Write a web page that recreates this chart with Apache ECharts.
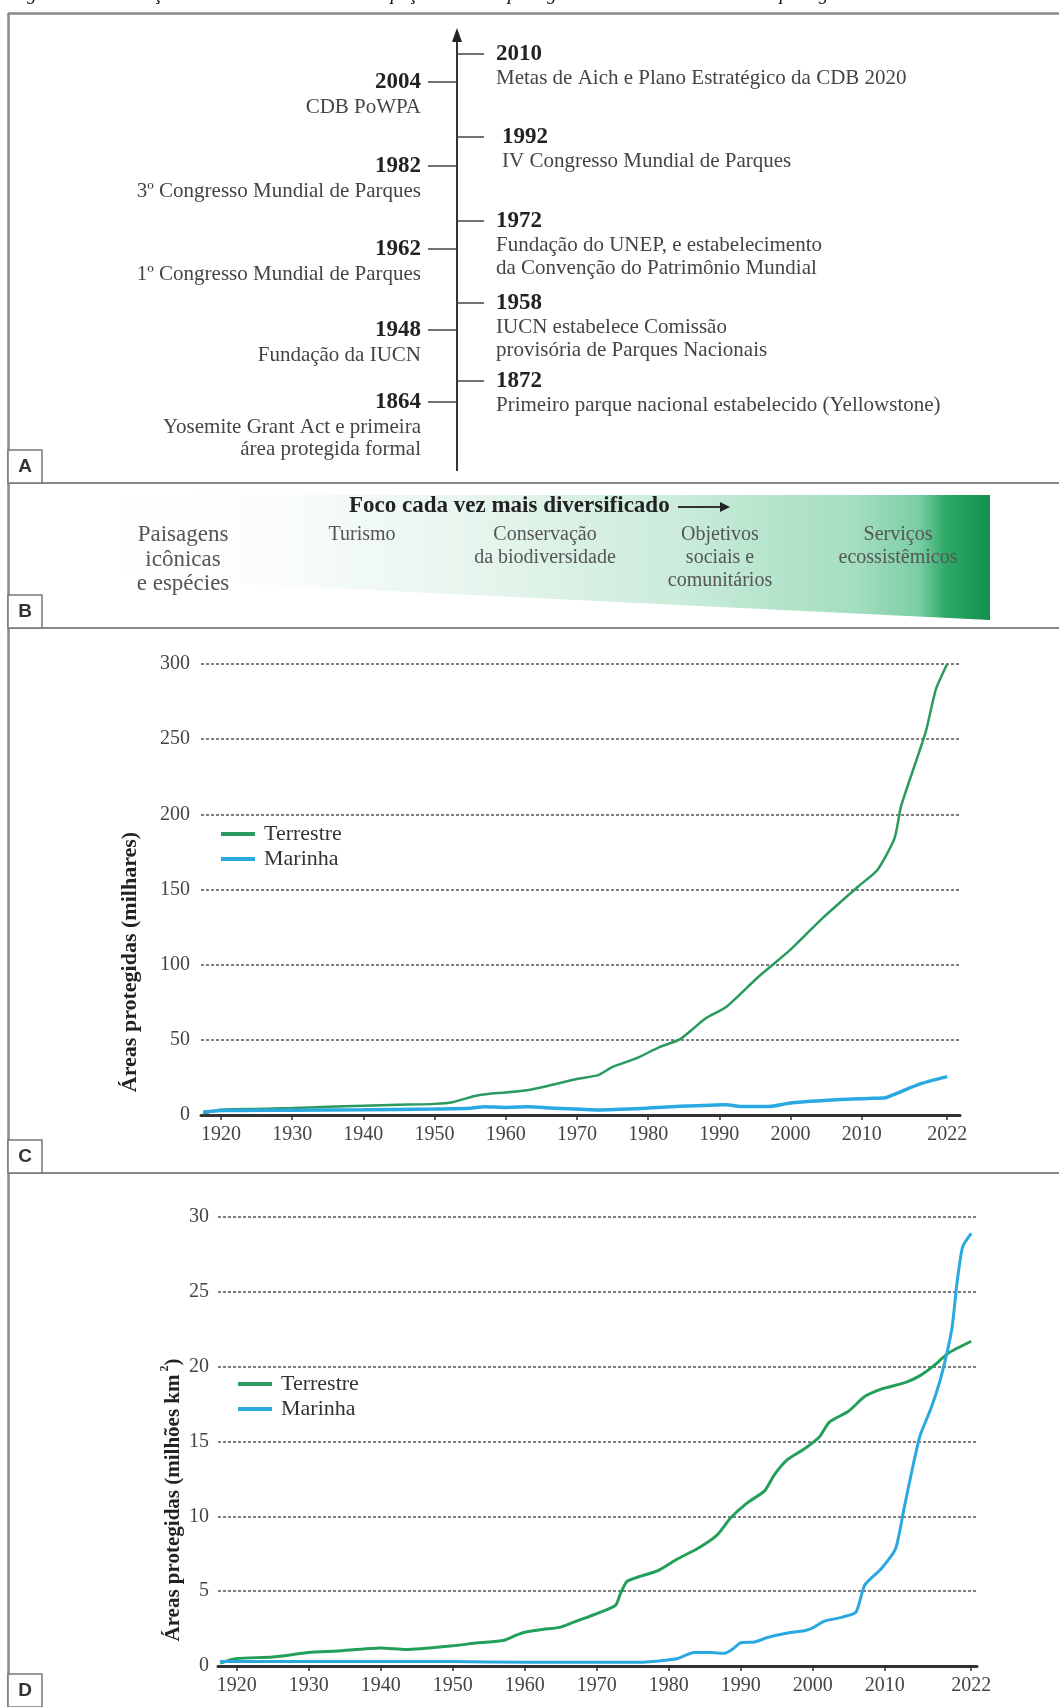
<!DOCTYPE html>
<html>
<head>
<meta charset="utf-8">
<script src="https://cdn.jsdelivr.net/npm/echarts@6.0.0/dist/echarts.min.js"></script>
<style>
  html, body { margin: 0; padding: 0; background: #ffffff; }
  #chart { width: 1059px; height: 1707px; }
</style>
</head>
<body>
<div id="chart"></div>
<script>
// ---------- Text content ----------
const caption = 'Figura 1.2 – Evolução histórica do conceito de espaços naturais protegidos e crescimento das áreas protegidas no mundo';

// Panel A: milestones on the timeline (left and right of the arrow)
const leftEvents = [
  { year: '2004', lines: ['CDB PoWPA'] },
  { year: '1982', lines: ['3º Congresso Mundial de Parques'] },
  { year: '1962', lines: ['1º Congresso Mundial de Parques'] },
  { year: '1948', lines: ['Fundação da IUCN'] },
  { year: '1864', lines: ['Yosemite Grant Act e primeira', 'área protegida formal'] }
];
const rightEvents = [
  { year: '2010', lines: ['Metas de Aich e Plano Estratégico da CDB 2020'] },
  { year: '1992', lines: ['IV Congresso Mundial de Parques'] },
  { year: '1972', lines: ['Fundação do UNEP, e estabelecimento', 'da Convenção do Patrimônio Mundial'] },
  { year: '1958', lines: ['IUCN estabelece Comissão', 'provisória de Parques Nacionais'] },
  { year: '1872', lines: ['Primeiro parque nacional estabelecido (Yellowstone)'] }
];

// Panel B: focus of protected areas over time
const focusTitle = 'Foco cada vez mais diversificado';
const focusStages = [
  ['Paisagens', 'icônicas', 'e espécies'],
  ['Turismo'],
  ['Conservação', 'da biodiversidade'],
  ['Objetivos', 'sociais e', 'comunitários'],
  ['Serviços', 'ecossistêmicos']
];

// Panel C: number of protected areas (thousands)
const cTerrYears  = [1917.5, 1920, 1925, 1930, 1935, 1940, 1945, 1950, 1952.5, 1955.5, 1957.5, 1960, 1963, 1966, 1970, 1973, 1975, 1978.5, 1981.5, 1984.5, 1988, 1991, 1995.5, 2000, 2004.5, 2009.5, 2012.2, 2014.6, 2015.5, 2017.1, 2019, 2020.4, 2022];
const cTerrValues = [1, 3.5, 4, 4.6, 5.5, 6.2, 6.8, 7.4, 8.5, 12.5, 14, 15, 16.5, 19.5, 24, 26.5, 32, 38, 45, 50.5, 64, 72, 92, 110, 131, 152, 163, 184, 205, 228, 255, 283, 300];
const cMarYears   = [1917.5, 1920, 1930, 1940, 1950, 1955, 1957, 1960, 1963, 1967, 1973, 1980, 1984, 1991, 1993, 1997, 2000, 2007, 2011, 2013.3, 2014.6, 2018.2, 2022];
const cMarValues  = [2, 3, 3.2, 3.5, 4, 4.5, 5.5, 5, 5.5, 4.5, 3.4, 4.6, 5.7, 6.9, 5.7, 5.7, 8, 10.3, 11, 11.5, 13.8, 20.7, 25.5];

// Panel D: protected area extent (million km²)
const dTerrYears  = [1917.7, 1920, 1925, 1930, 1934, 1940, 1943.5, 1950, 1953.5, 1957, 1959, 1960.5, 1962.6, 1965, 1967.2, 1970, 1972.6, 1973.3, 1974.2, 1976.1, 1978.4, 1981.2, 1984, 1986.7, 1988.6, 1990.9, 1993.3, 1994.7, 1996.5, 1998.8, 2000.9, 2002.3, 2004.9, 2007.2, 2009.5, 2012.9, 2014.9, 2016.9, 2018.8, 2022];
const dTerrValues = [0.2, 0.5, 0.6, 0.9, 1.0, 1.2, 1.1, 1.35, 1.55, 1.7, 2.1, 2.3, 2.45, 2.6, 3.0, 3.5, 4.05, 4.85, 5.65, 6.0, 6.35, 7.15, 7.85, 8.75, 9.9, 10.9, 11.7, 12.8, 13.8, 14.5, 15.3, 16.3, 17.0, 18.0, 18.5, 18.95, 19.4, 20.1, 20.9, 21.7];
const dMarYears   = [1917.7, 1920, 1930, 1940, 1950, 1960, 1970, 1976, 1979.8, 1981.2, 1983.5, 1985.8, 1987.7, 1988.8, 1990, 1991.9, 1993.7, 1996.5, 1998.8, 2000, 2001.6, 2004, 2006, 2007.2, 2009.5, 2011.5, 2012.7, 2013.9, 2014.9, 2016.4, 2017.8, 2019.3, 2020, 2020.8, 2022];
const dMarValues  = [0.3, 0.3, 0.3, 0.3, 0.3, 0.25, 0.25, 0.25, 0.4, 0.5, 0.9, 0.9, 0.85, 1.1, 1.55, 1.6, 1.9, 2.2, 2.35, 2.55, 3.0, 3.25, 3.6, 5.4, 6.5, 7.85, 10.6, 13.35, 15.4, 17.2, 19.3, 22.5, 25.5, 28.0, 28.9];

const yearTicks = [1920, 1930, 1940, 1950, 1960, 1970, 1980, 1990, 2000, 2010, 2022];
const seriesNames = ['Terrestre', 'Marinha'];
const titleC = 'Áreas protegidas (milhares)';
const titleD = 'Áreas protegidas (milhões km{sup|2})';

// ---------- Layout and styling ----------
const SERIF = '"Liberation Serif", "Times New Roman", serif';
const SANS = '"Liberation Sans", Arial, sans-serif';
const GREEN = '#22a05b';
const BLUE = '#2aa8e0';
const FRAME = '#8a8a8a';

const axisX = 457;
const leftRowY = [82, 166, 249, 330, 402];
const rightRowY = [54, 137, 221, 303, 381];
const stageX = [183, 362, 545, 720, 898];

function zip(xs, ys) { return xs.map((x, i) => [x, ys[i]]); }

function txt(x, y, text, font, fill, align, vAlign, extra) {
  return Object.assign({
    type: 'text', x: x, y: y, silent: true,
    style: {
      text: text, font: font, fill: fill,
      align: align, textAlign: align,
      verticalAlign: vAlign, textVerticalAlign: vAlign
    }
  }, extra || {});
}

function hline(x1, x2, y, color, w) {
  return { type: 'line', silent: true, shape: { x1: x1, y1: y, x2: x2, y2: y }, style: { stroke: color, lineWidth: w } };
}

function panelTag(letter, y0) {
  return [
    { type: 'rect', silent: true, shape: { x: 8, y: y0, width: 34, height: 33 }, style: { fill: '#fff', stroke: '#777', lineWidth: 1.5 } },
    txt(25, y0 + 17, letter, 'bold 19px ' + SANS, '#333', 'center', 'middle')
  ];
}

const els = [];

// caption line, cut by the top edge of the page
els.push(txt(10, 4, caption, 'italic 19px ' + SERIF, '#111', 'left', 'bottom'));

// outer frame and panel separators
els.push({ type: 'line', silent: true, shape: { x1: 8.5, y1: 13, x2: 8.5, y2: 1707 }, style: { stroke: FRAME, lineWidth: 2.5 } });
els.push(hline(8, 1059, 13.5, FRAME, 2.5));
els.push(hline(8, 1059, 483, FRAME, 2));
els.push(hline(8, 1059, 628, FRAME, 2));
els.push(hline(8, 1059, 1173, FRAME, 2));

// ----- Panel A: timeline -----
els.push({ type: 'line', silent: true, shape: { x1: axisX, y1: 38, x2: axisX, y2: 471 }, style: { stroke: '#333', lineWidth: 2 } });
els.push({ type: 'polygon', silent: true, shape: { points: [[axisX, 28], [axisX - 5, 42], [axisX + 5, 42]] }, style: { fill: '#222' } });

leftEvents.forEach((ev, i) => {
  const y = leftRowY[i];
  els.push(hline(428, axisX, y, '#444', 1.5));
  els.push(txt(421, y, ev.year, 'bold 23px ' + SERIF, '#222', 'right', 'middle'));
  ev.lines.forEach((ln, j) => {
    els.push(txt(421, y + 25 + j * 22, ln, '21px ' + SERIF, '#444', 'right', 'middle'));
  });
});
rightEvents.forEach((ev, i) => {
  const y = rightRowY[i];
  const x0 = ev.year === '1992' ? 502 : 496;
  els.push(hline(axisX, 484, y, '#444', 1.5));
  els.push(txt(x0, y, ev.year, 'bold 23px ' + SERIF, '#222', 'left', 'middle'));
  ev.lines.forEach((ln, j) => {
    els.push(txt(x0, y + 24 + j * 23, ln, '21px ' + SERIF, '#444', 'left', 'middle'));
  });
});

// ----- Panel B: widening focus wedge -----
els.push({
  type: 'polygon', silent: true,
  shape: { points: [[100, 495], [990, 495], [990, 620], [100, 577]] },
  style: {
    fill: new echarts.graphic.LinearGradient(0, 0, 1, 0, [
      { offset: 0, color: '#ffffff' },
      { offset: 0.2, color: '#fafdfb' },
      { offset: 0.45, color: '#e3f4eb' },
      { offset: 0.65, color: '#cbecdb' },
      { offset: 0.85, color: '#a3dec0' },
      { offset: 0.92, color: '#7bcea4' },
      { offset: 0.95, color: '#2fa96a' },
      { offset: 0.975, color: '#1d9d58' },
      { offset: 1, color: '#15904e' }
    ])
  }
});
els.push(txt(349, 506, focusTitle, 'bold 23px ' + SERIF, '#222', 'left', 'middle'));
els.push({ type: 'line', silent: true, shape: { x1: 678, y1: 507, x2: 722, y2: 507 }, style: { stroke: '#333', lineWidth: 2 } });
els.push({ type: 'polygon', silent: true, shape: { points: [[730, 507], [720, 502], [720, 512]] }, style: { fill: '#222' } });
focusStages.forEach((lines, i) => {
  const big = i === 0;
  lines.forEach((ln, j) => {
    els.push(txt(stageX[i], 535 + j * (big ? 24.5 : 23), ln, (big ? '23px ' : '20px ') + SERIF, '#555', 'center', 'middle'));
  });
});

// ----- Axis titles of panels C and D -----
els.push(txt(130, 962, titleC, 'bold 22px ' + SERIF, '#222', 'center', 'middle', { rotation: Math.PI / 2 }));
els.push({
  type: 'text', x: 174, y: 1500, rotation: Math.PI / 2, silent: true,
  style: {
    text: titleD, font: 'bold 21px ' + SERIF, fill: '#222',
    align: 'center', textAlign: 'center', verticalAlign: 'middle', textVerticalAlign: 'middle',
    lineHeight: 30,
    rich: { sup: { font: 'bold 12px ' + SERIF, fill: '#222', verticalAlign: 'top', lineHeight: 30, padding: [0, 0, 0, 3] } }
  }
});

// panel tags
[['A', 450], ['B', 595], ['C', 1140], ['D', 1674]].forEach(p => panelTag(p[0], p[1]).forEach(e => els.push(e)));

// ---------- Chart components ----------
function makeX(gridIndex, min, max) {
  return {
    gridIndex: gridIndex, type: 'value', min: min, max: max,
    axisLine: { lineStyle: { color: '#333', width: 3 } },
    axisTick: { customValues: yearTicks, length: 5, lineStyle: { color: '#333', width: 1.5 } },
    axisLabel: {
      customValues: yearTicks, formatter: v => String(Math.round(v)),
      margin: 10, fontFamily: SERIF, fontSize: 20, color: '#444'
    },
    splitLine: { show: false }
  };
}
function makeY(gridIndex, max, interval, margin) {
  return {
    gridIndex: gridIndex, type: 'value', min: 0, max: max, interval: interval,
    axisLine: { show: false }, axisTick: { show: false },
    axisLabel: { margin: margin, fontFamily: SERIF, fontSize: 20, color: '#444' },
    splitLine: { lineStyle: { type: [3, 2], color: '#555', width: 1.6 } }
  };
}
function makeLine(name, xi, data, color, width) {
  return {
    name: name, type: 'line', xAxisIndex: xi, yAxisIndex: xi, data: data,
    showSymbol: false, smooth: 0.2, silent: true,
    lineStyle: { color: color, width: width }, itemStyle: { color: color }
  };
}
function makeLegend(left, top) {
  return {
    left: left, top: top, orient: 'vertical', icon: 'rect',
    itemWidth: 34, itemHeight: 4, itemGap: 3,
    data: seriesNames, selectedMode: false,
    textStyle: { fontFamily: SERIF, fontSize: 22, color: '#333', padding: [0, 0, 0, 4] }
  };
}

const option = {
  animation: false,
  backgroundColor: '#ffffff',
  grid: [
    { left: 201, right: 99, top: 664, bottom: 592 },
    { left: 218, right: 82, top: 1217, bottom: 41 }
  ],
  xAxis: [makeX(0, 1917.2, 2023.8), makeX(1, 1917.4, 2022.8)],
  yAxis: [makeY(0, 300, 50, 11), makeY(1, 30, 5, 9)],
  legend: [makeLegend(216, 818), makeLegend(233, 1368)],
  series: [
    makeLine(seriesNames[0], 0, zip(cTerrYears, cTerrValues), '#2a9a5e', 2.5),
    makeLine(seriesNames[1], 0, zip(cMarYears, cMarValues), BLUE, 3.5),
    makeLine(seriesNames[0], 1, zip(dTerrYears, dTerrValues), GREEN, 3),
    makeLine(seriesNames[1], 1, zip(dMarYears, dMarValues), BLUE, 3)
  ],
  graphic: { elements: els }
};

const chart = echarts.init(document.getElementById('chart'), null, { renderer: 'canvas' });
chart.setOption(option);
</script>
</body>
</html>
